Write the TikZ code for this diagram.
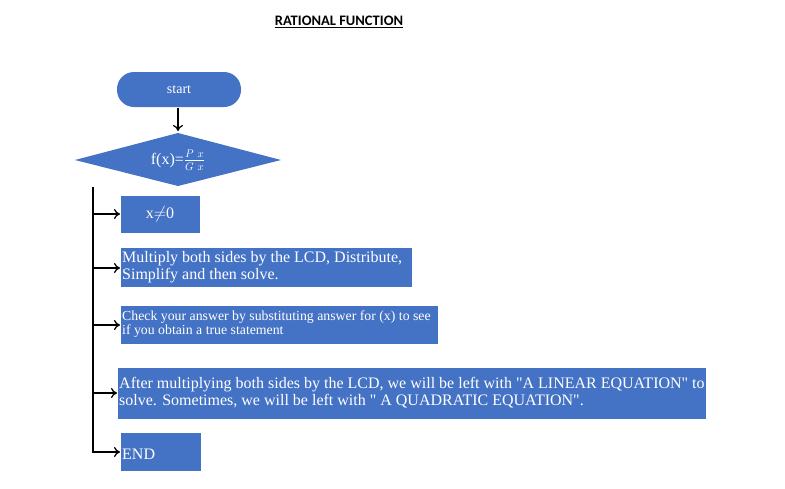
\documentclass[tikz,border=0pt]{standalone}
\usepackage{fontspec}
\setmainfont{Liberation Serif}
\newfontfamily\titlefont{Carlito}
\usetikzlibrary{shapes.geometric,arrows.meta}
\definecolor{bx}{HTML}{4472C4}
\begin{document}
\begin{tikzpicture}[x=1pt,y=-1pt,
  arr/.style={-{To[length=6pt,width=10pt]},line width=1.3pt}]
\useasboundingbox (0,0) rectangle (785,488);
\node[font=\titlefont\bfseries\fontsize{14.5}{17}\selectfont] (title) at (339,22) {\underline{RATIONAL FUNCTION}};
\fill[bx,rounded corners=17pt] (117,72) rectangle (241,107);
\node[text=white,font=\fontsize{14}{16}\selectfont] (start) at (179,90) {start};
\fill[bx] (75,160) -- (178,133) -- (281,160) -- (178,186) -- cycle;
\node[text=white,font=\fontsize{16}{18}\selectfont] (dia) at (178,160) {f(x)=$\frac{P\ x}{G\ x}$};
\coordinate (s1) at (178,108); \coordinate (s2) at (178,131);
\draw[arr] (s1) -- (s2);
\coordinate (top) at (93,187); \coordinate (bot) at (93,453);
\draw[line width=1.3pt] (top) -- (bot);
\fill[bx] (121,196) rectangle (200,233);
\node[text=white,font=\fontsize{16}{18}\selectfont] (b1) at (160,214) {x$\neq$0};
\fill[bx] (121,248) rectangle (412,287);
\node[text=white,anchor=west,align=left,inner sep=1pt,font=\fontsize{16}{17}\selectfont] (b2) at (121,267) {Multiply both sides by the LCD, Distribute,\\Simplify and then solve.};
\fill[bx] (121,306) rectangle (438,344);
\node[text=white,anchor=west,align=left,inner sep=1pt,font=\fontsize{13.8}{14}\selectfont] (b3) at (121,324) {Check your answer by substituting answer for (x) to see\\if you obtain a true statement};
\fill[bx] (118,368) rectangle (706,419);
\node[text=white,anchor=west,align=left,inner sep=1pt,font=\fontsize{16}{17}\selectfont] (b4) at (118,393) {After multiplying both sides by the LCD, we will be left with \textquotedbl A LINEAR EQUATION\textquotedbl{} to\\solve. Sometimes, we will be left with \textquotedbl{} A QUADRATIC EQUATION\textquotedbl.};
\fill[bx] (121,433) rectangle (201,471);
\node[text=white,anchor=west,inner sep=1pt,font=\fontsize{16}{18}\selectfont] (b5) at (121,454) {END};
\foreach \y/\x in {214/120,268/120,325/120,393/117,452/120}{
  \coordinate (a) at (93,\y); \coordinate (b) at (\x,\y);
  \draw[arr] (a) -- (b);}
\end{tikzpicture}
\end{document}
